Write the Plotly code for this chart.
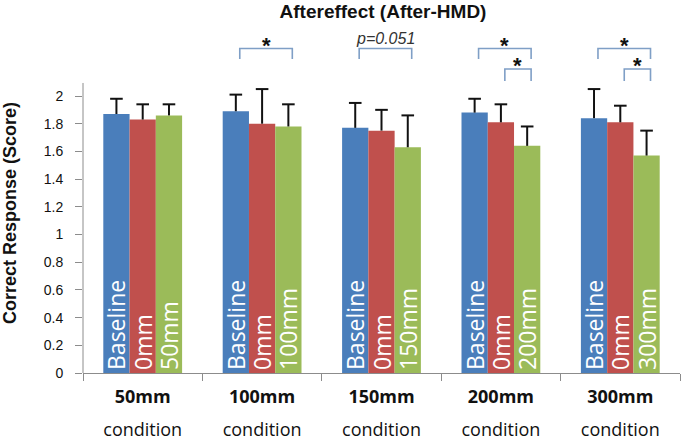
import plotly.graph_objects as go

# ---- data ----
categories = ["50mm", "100mm", "150mm", "200mm", "300mm"]
series_names = ["Baseline", "0mm", "Condition"]
baseline_vals = [1.87, 1.89, 1.77, 1.88, 1.84]
zero_vals = [1.83, 1.80, 1.75, 1.81, 1.81]
cond_vals = [1.86, 1.78, 1.63, 1.64, 1.57]
baseline_err = [0.11, 0.12, 0.18, 0.10, 0.21]
zero_err = [0.11, 0.25, 0.15, 0.13, 0.12]
cond_err = [0.08, 0.16, 0.23, 0.14, 0.18]
baseline_text = ["Baseline"] * 5
zero_text = ["0mm"] * 5
cond_text = ["50mm", "100mm", "150mm", "200mm", "300mm"]
tick_top = ["50mm", "100mm", "150mm", "200mm", "300mm"]
tick_bottom = ["condition"] * 5
ytick_vals = [0, 0.2, 0.4, 0.6, 0.8, 1.0, 1.2, 1.4, 1.6, 1.8, 2.0]
ytick_text = ["0", "0.2", "0.4", "0.6", "0.8", "1", "1.2", "1.4", "1.6", "1.8", "2"]

# significance brackets: category index, from-series, to-series, level, label
sig_cat = [1, 2, 3, 3, 4, 4]
sig_from = [0, 0, 0, 1, 0, 1]
sig_to = [2, 2, 2, 2, 2, 2]
sig_level = [0, 0, 0, 1, 0, 1]
sig_label = ["*", "p=0.051", "*", "*", "*", "*"]

# ---- style ----
colors = ["#4a7ebb", "#c0504d", "#9bbb59"]
axis_gray = "#8c8c8c"
bracket_color = "#7f9fc6"
BARGAP = 0.34
TOP_PX, ZERO_PX, TWO_PX = 20, 373, 96
y_max = 2 * (ZERO_PX - TOP_PX) / (ZERO_PX - TWO_PX)

fig = go.Figure()
vals = [baseline_vals, zero_vals, cond_vals]
errs = [baseline_err, zero_err, cond_err]
texts = [baseline_text, zero_text, cond_text]
for k in range(3):
    fig.add_trace(go.Bar(
        x=categories, y=vals[k], name=series_names[k],
        marker=dict(color=colors[k], line=dict(width=0)),
        text=texts[k], textposition="inside", insidetextanchor="start",
        textangle=-90, textfont=dict(family="Open Sans", size=23, color="white"),
        error_y=dict(type="data", symmetric=False, array=errs[k],
                     arrayminus=[0] * len(errs[k]), color="#111111",
                     thickness=2, width=0),
        hoverinfo="skip",
    ))
for k in range(3):
    fig.add_trace(go.Scatter(
        x=categories, y=[v + e for v, e in zip(vals[k], errs[k])],
        mode="markers",
        marker=dict(symbol="line-ew", size=9, color="#111111",
                    line=dict(width=2, color="#111111")),
        hoverinfo="skip", showlegend=False,
    ))

# brackets
unit_w = (1 - BARGAP) / 3
shift = 0.033
levels_top = [2.343, 2.195]
levels_leg = [2.267, 2.108]
shapes = []
annotations = []
for c, a, b, lv, lab in zip(sig_cat, sig_from, sig_to, sig_level, sig_label):
    x0 = c + (a - 1) * unit_w + shift
    x1 = c + (b - 1) * unit_w + shift
    yt, yl = levels_top[lv], levels_leg[lv]
    shapes.append(dict(type="path", xref="x", yref="y",
                       path=f"M {x0},{yl} L {x0},{yt} L {x1},{yt} L {x1},{yl}",
                       line=dict(color=bracket_color, width=1.6)))
    if lab == "*":
        annotations.append(dict(x=(x0 + x1) / 2, y=yt, xref="x", yref="y", yshift=3,
                                text="<b>*</b>", showarrow=False, yanchor="middle",
                                font=dict(family="Liberation Sans", size=22, color="#111")))
    else:
        annotations.append(dict(x=(x0 + x1) / 2, y=2.412, xref="x", yref="y",
                                text=f"<i>{lab}</i>", showarrow=False, yanchor="middle",
                                font=dict(family="Liberation Sans", size=16, color="#333")))

# y axis line (only up to the top of the value area)
shapes.append(dict(type="line", xref="paper", yref="y", x0=0, x1=0, y0=0, y1=2.094,
                   line=dict(color=axis_gray, width=1)))

# y axis title
annotations.append(dict(xref="paper", yref="paper", x=0, xshift=-73,
                        y=(ZERO_PX - 213) / (ZERO_PX - TOP_PX),
                        text="<b>Correct Response (Score)</b>", textangle=-90,
                        showarrow=False, xanchor="center", yanchor="middle",
                        font=dict(family="Liberation Sans", size=18, color="#111")))

ticktext = [f'<span style="font-size:18px"><b>{t}</b></span><br>'
            f'<span style="font-size:18px">{b}</span>'
            for t, b in zip(tick_top, tick_bottom)]

fig.update_layout(
    width=685, height=447,
    margin=dict(l=83, r=5, t=TOP_PX, b=74),
    paper_bgcolor="white", plot_bgcolor="white",
    barmode="group", bargap=BARGAP, bargroupgap=0,
    scattermode="group", scattergap=BARGAP,
    showlegend=False,
    uniformtext=dict(minsize=23, mode="show"),
    title=dict(text="<b>Aftereffect (After-HMD)</b>", x=383 / 685, xref="container",
               xanchor="center", y=1 - 11 / 447, yref="container", yanchor="middle",
               font=dict(family="Liberation Sans", size=19, color="#111")),
    shapes=shapes, annotations=annotations,
    xaxis=dict(type="category", showline=True, linecolor=axis_gray, linewidth=1,
               ticks="outside", tickson="boundaries", ticklen=7, tickcolor=axis_gray,
               tickvals=categories, ticktext=ticktext, automargin=False,
               ticklabelstandoff=-1,
               tickfont=dict(family="Open Sans", size=25, color="#111"),
               showgrid=False, zeroline=False),
    yaxis=dict(range=[0, y_max], showline=False, showgrid=False, zeroline=False,
               ticks="outside", ticklen=7, tickcolor=axis_gray, automargin=False,
               tickvals=ytick_vals, ticktext=ytick_text, ticklabelstandoff=9,
               tickfont=dict(family="Liberation Sans", size=14, color="#111")),
)

fig.write_html("out.html", config={"displayModeBar": False},
               post_script="document.body.style.margin='0px';")
